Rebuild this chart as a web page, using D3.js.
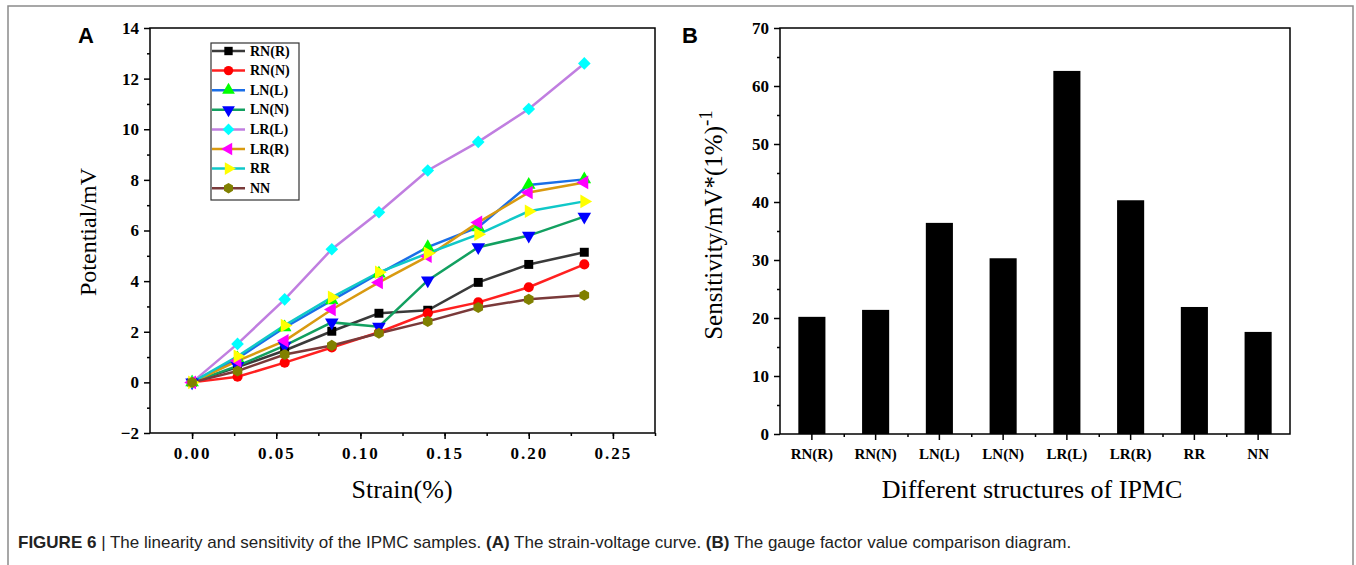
<!DOCTYPE html>
<html>
<head>
<meta charset="utf-8">
<script src="https://cdn.jsdelivr.net/npm/d3@7"></script>
<style>
  body { margin: 0; background: #fff; }
  .serif { font-family: "Liberation Serif", "Times New Roman", serif; }
  .tick text { font-family: "Liberation Serif", "Times New Roman", serif; font-weight: bold; font-size: 17px; fill: #000; }
  .domain, .tick line { stroke: #000; stroke-width: 1.5; }
</style>
</head>
<body>
<svg id="fig" width="1356" height="565"></svg>
<script>
// ---- data ----
const strain = [0, 0.027, 0.055, 0.083, 0.111, 0.14, 0.17, 0.2, 0.233];
const seriesNames = ["RN(R)", "RN(N)", "LN(L)", "LN(N)", "LR(L)", "LR(R)", "RR", "NN"];
const rnR = [0, 0.6, 1.26, 2.02, 2.73, 2.85, 3.95, 4.66, 5.14];
const rnN = [0, 0.22, 0.78, 1.38, 1.98, 2.73, 3.16, 3.76, 4.66];
const lnL = [0, 0.95, 2.17, 3.24, 4.3, 5.34, 6.13, 7.8, 8.02];
const lnN = [0, 0.65, 1.45, 2.37, 2.2, 4.03, 5.34, 5.8, 6.55];
const lrL = [0, 1.52, 3.28, 5.26, 6.72, 8.37, 9.5, 10.8, 12.6];
const lrR = [0, 0.85, 1.64, 2.88, 3.95, 4.98, 6.32, 7.5, 7.9];
const rr  = [0, 1.03, 2.25, 3.36, 4.35, 5.1, 5.85, 6.76, 7.15];
const nn  = [0, 0.45, 1.1, 1.46, 1.94, 2.41, 2.96, 3.28, 3.44];
const seriesValues = [rnR, rnN, lnL, lnN, lrL, lrR, rr, nn];

const sensitivity = [20.2, 21.4, 36.4, 30.3, 62.6, 40.3, 21.9, 17.6];

const xTicksA = [0, 0.05, 0.1, 0.15, 0.2, 0.25];
const yTicksA = [-2, 0, 2, 4, 6, 8, 10, 12, 14];
const yTicksB = [0, 10, 20, 30, 40, 50, 60, 70];

// line colour, marker fill, marker shape
const lineColor = ["#3a3a3a", "#ff2020", "#1a6ee8", "#12a060", "#c07ee0", "#d99a10", "#10c8c8", "#7a3a3a"];
const markColor = ["#000000", "#ff0000", "#00ff00", "#0000ff", "#00ffff", "#ff00ff", "#ffff00", "#808000"];

const hexagon = {
  draw(ctx, size) {
    const r = Math.sqrt(size / (1.5 * Math.sqrt(3)));
    for (let i = 0; i < 6; i++) {
      const a = Math.PI / 6 + i * Math.PI / 3;
      if (i === 0) ctx.moveTo(r * Math.cos(a), r * Math.sin(a));
      else ctx.lineTo(r * Math.cos(a), r * Math.sin(a));
    }
    ctx.closePath();
  }
};
// [symbol type, rotation]
const shapes = [
  [d3.symbolSquare, 0], [d3.symbolCircle, 0], [d3.symbolTriangle, 0], [d3.symbolTriangle, 180],
  [d3.symbolSquare, 45], [d3.symbolTriangle, -90], [d3.symbolTriangle, 90], [hexagon, 0]
];

const svg = d3.select("#fig");
svg.append("rect").attr("width", 1356).attr("height", 565).attr("fill", "#fff");
// outer frame of the figure
svg.append("rect").attr("x", 8).attr("y", 6).attr("width", 1345).attr("height", 600)
  .attr("fill", "none").attr("stroke", "#8a8a8a").attr("stroke-width", 1.5);

// ================= Panel A =================
const xA = d3.scaleLinear().domain([-0.025, 0.275]).range([150, 655]);
const yA = d3.scaleLinear().domain([-2, 14]).range([433, 28]);

const gA = svg.append("g");
gA.append("rect").attr("x", 150).attr("y", 28).attr("width", 505).attr("height", 405)
  .attr("fill", "none").attr("stroke", "#000").attr("stroke-width", 1.5);

gA.append("g").attr("transform", "translate(0,433)")
  .call(d3.axisBottom(xA).tickValues(d3.range(-0.025, 0.276, 0.025).slice(1)).tickSize(3).tickFormat(""))
  .call(g => g.select(".domain").remove());
gA.append("g").attr("transform", "translate(0,433)")
  .call(d3.axisBottom(xA).tickValues(xTicksA).tickSize(6).tickPadding(8).tickFormat(d3.format(".2f")))
  .call(g => g.select(".domain").remove())
  .call(g => g.selectAll("text").attr("letter-spacing", "2px"));

gA.append("g").attr("transform", "translate(150,0)")
  .call(d3.axisLeft(yA).tickValues(d3.range(-1, 14, 2)).tickSize(3).tickFormat(""))
  .call(g => g.select(".domain").remove());
gA.append("g").attr("transform", "translate(150,0)")
  .call(d3.axisLeft(yA).tickValues(yTicksA).tickSize(6).tickPadding(5).tickFormat(d => d < 0 ? "\u2212" + (-d) : d))
  .call(g => g.select(".domain").remove());

gA.append("text").attr("class", "serif").attr("transform", "translate(96,232) rotate(-90)")
  .attr("text-anchor", "middle").attr("font-size", 24).text("Potential/mV");
gA.append("text").attr("class", "serif").attr("x", 402).attr("y", 498)
  .attr("text-anchor", "middle").attr("font-size", 26).text("Strain(%)");

const line = d3.line().x((d, i) => xA(strain[i])).y(d => yA(d));
const sym = d3.symbol().size(80);

seriesValues.forEach((vals, s) => {
  gA.append("path").datum(vals).attr("d", line)
    .attr("fill", "none").attr("stroke", lineColor[s]).attr("stroke-width", 2.5);
});
seriesValues.forEach((vals, s) => {
  gA.selectAll(null).data(vals).join("path")
    .attr("d", sym.type(shapes[s][0])())
    .attr("transform", (d, i) => `translate(${xA(strain[i])},${yA(d)}) rotate(${shapes[s][1]})`)
    .attr("fill", markColor[s]);
});

// legend
const leg = gA.append("g");
leg.append("rect").attr("x", 211).attr("y", 43).attr("width", 88).attr("height", 157)
  .attr("fill", "#fff").attr("stroke", "#333").attr("stroke-width", 1.2);
seriesNames.forEach((name, s) => {
  const y = 51 + s * 19.6;
  leg.append("line").attr("x1", 212).attr("x2", 245).attr("y1", y).attr("y2", y)
    .attr("stroke", lineColor[s]).attr("stroke-width", 2.5);
  leg.append("path").attr("d", d3.symbol().size(70).type(shapes[s][0])())
    .attr("transform", `translate(228.5,${y}) rotate(${shapes[s][1]})`).attr("fill", markColor[s]);
  leg.append("text").attr("class", "serif").attr("x", 250).attr("y", y + 4.5).attr("font-size", 14)
    .attr("font-weight", "bold").text(name);
});

// ================= Panel B =================
const xB = d3.scaleBand().domain(seriesNames).range([780, 1290]).paddingInner(0.575).paddingOuter(0.2875);
const yB = d3.scaleLinear().domain([0, 70]).range([434, 28]);
const gB = svg.append("g");

gB.append("rect").attr("x", 780).attr("y", 28).attr("width", 510).attr("height", 406)
  .attr("fill", "none").attr("stroke", "#000").attr("stroke-width", 1.5);

gB.selectAll(null).data(sensitivity).join("rect")
  .attr("x", (d, i) => xB(seriesNames[i]))
  .attr("width", xB.bandwidth())
  .attr("y", d => yB(d))
  .attr("height", d => 434 - yB(d))
  .attr("fill", "#000");

const xBstep = xB.step();
const boundaries = d3.range(1, seriesNames.length).map(i => 780 + i * xBstep);
const bAxis = d3.scaleLinear().domain([780, 1290]).range([780, 1290]);
gB.append("g").attr("transform", "translate(0,434)")
  .call(d3.axisBottom(bAxis).tickValues(boundaries).tickSize(3).tickFormat(""))
  .call(g => g.select(".domain").remove());
gB.append("g").attr("transform", "translate(0,434)")
  .call(d3.axisBottom(xB).tickSize(6).tickPadding(8))
  .call(g => g.select(".domain").remove())
  .call(g => g.selectAll("text").style("font-size", "15px"));

gB.append("g").attr("transform", "translate(780,0)")
  .call(d3.axisLeft(yB).tickValues(d3.range(5, 70, 10)).tickSize(3).tickFormat(""))
  .call(g => g.select(".domain").remove());
gB.append("g").attr("transform", "translate(780,0)")
  .call(d3.axisLeft(yB).tickValues(yTicksB).tickSize(6).tickPadding(5))
  .call(g => g.select(".domain").remove());

const yt = gB.append("text").attr("class", "serif").attr("transform", "translate(722,225) rotate(-90)")
  .attr("text-anchor", "middle").attr("font-size", 25);
yt.append("tspan").text("Sensitivity/mV*(1%)");
yt.append("tspan").attr("dy", -10).attr("font-size", 19).text("-1");
gB.append("text").attr("class", "serif").attr("x", 1032).attr("y", 498)
  .attr("text-anchor", "middle").attr("font-size", 26).text("Different structures of IPMC");

// panel letters
const sans = "'Liberation Sans', Arial, sans-serif";
svg.append("text").attr("x", 78).attr("y", 43).style("font-family", sans)
  .attr("font-weight", "bold").attr("font-size", 22).text("A");
svg.append("text").attr("x", 682).attr("y", 43).style("font-family", sans)
  .attr("font-weight", "bold").attr("font-size", 22).text("B");

// caption
const cap = svg.append("text").attr("x", 18).attr("y", 548)
  .style("font-family", "'Liberation Sans Narrow', 'Liberation Sans', Arial, sans-serif")
  .attr("font-size", 17).attr("fill", "#222");
cap.append("tspan").attr("font-weight", "bold").text("FIGURE 6");
cap.append("tspan").text(" | The linearity and sensitivity of the IPMC samples. ");
cap.append("tspan").attr("font-weight", "bold").text("(A)");
cap.append("tspan").text(" The strain-voltage curve. ");
cap.append("tspan").attr("font-weight", "bold").text("(B)");
cap.append("tspan").text(" The gauge factor value comparison diagram.");
</script>
</body>
</html>
